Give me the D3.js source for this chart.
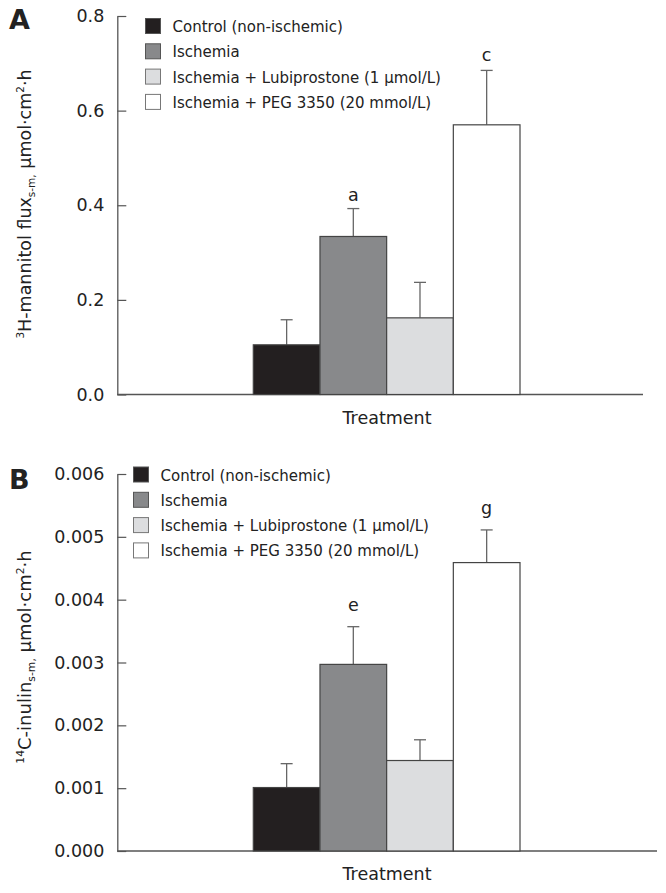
<!DOCTYPE html>
<html><head><meta charset="utf-8">
<script src="https://cdn.jsdelivr.net/npm/d3@7/dist/d3.min.js"></script>
<style>body{margin:0;background:#fff}svg{display:block}text{font-family:"DejaVu Sans",sans-serif;fill:#222}</style>
</head><body>
<script>
const categories = ["Control (non-ischemic)", "Ischemia", "Ischemia + Lubiprostone (1 \u03bcmol/L)", "Ischemia + PEG 3350 (20 mmol/L)"];
const fills = ["#231f20", "#88898b", "#dcdddf", "#ffffff"];
const mannitolMean = [0.105, 0.334, 0.162, 0.570];
const mannitolErr  = [0.053, 0.059, 0.075, 0.115];
const mannitolTicks = [0.0, 0.2, 0.4, 0.6, 0.8];
const mannitolLetters = [{i:1, t:"a", v:0.41}, {i:3, t:"c", v:0.705}];
const inulinMean = [0.00101, 0.00297, 0.00144, 0.00459];
const inulinErr  = [0.00038, 0.00060, 0.00033, 0.00052];
const inulinTicks = [0.000, 0.001, 0.002, 0.003, 0.004, 0.005, 0.006];
const inulinLetters = [{i:1, t:"e", v:0.00382}, {i:3, t:"g", v:0.00537}];

const svg = d3.select("body").append("svg").attr("width", 666).attr("height", 893);

function panel(cfg) {
  const g = svg.append("g");
  const y = d3.scaleLinear().domain([0, cfg.max]).range([cfg.y0, cfg.y1]);
  const x = d3.scaleBand().domain(categories).range([253.3, 520]).padding(0);
  // y axis
  const ax = g.append("g").attr("transform", `translate(${cfg.ax},0)`)
    .call(d3.axisLeft(y).tickValues(cfg.ticks).tickFormat(d3.format(cfg.fmt)).tickSizeInner(-9).tickSizeOuter(0).tickPadding(13));
  ax.select(".domain").attr("stroke", "#555").attr("stroke-width", 1.3);
  ax.selectAll(".tick line").attr("stroke", "#555").attr("stroke-width", 1.2);
  ax.selectAll(".tick text").attr("font-size", 17.5).attr("font-family", "DejaVu Sans").attr("fill", "#222");
  // x axis line
  g.append("line").attr("x1", cfg.ax).attr("x2", cfg.xEnd).attr("y1", y(0)).attr("y2", y(0))
    .attr("stroke", "#555").attr("stroke-width", 1.3);
  // error bars
  const eb = g.append("g");
  cfg.mean.forEach((m, i) => {
    const cx = x(categories[i]) + x.bandwidth() / 2;
    eb.append("line").attr("x1", cx).attr("x2", cx).attr("y1", y(m)).attr("y2", y(m + cfg.err[i])).attr("stroke", "#666").attr("stroke-width", 1.3);
    eb.append("line").attr("x1", cx - 6).attr("x2", cx + 6).attr("y1", y(m + cfg.err[i])).attr("y2", y(m + cfg.err[i])).attr("stroke", "#666").attr("stroke-width", 1.3);
  });
  // bars
  g.append("g").selectAll("rect").data(cfg.mean).join("rect")
    .attr("x", (d, i) => x(categories[i])).attr("width", x.bandwidth())
    .attr("y", d => y(d)).attr("height", d => y(0) - y(d))
    .attr("fill", (d, i) => fills[i]).attr("stroke", "#444").attr("stroke-width", 1.2);
  // letters
  g.selectAll("text.lt").data(cfg.letters).join("text").attr("class", "lt")
    .attr("x", d => x(categories[d.i]) + x.bandwidth() / 2).attr("y", d => y(d.v))
    .attr("text-anchor", "middle").attr("font-size", 17.5).text(d => d.t);
  // x title
  g.append("text").attr("x", 387).attr("y", y(0) + 29).attr("text-anchor", "middle").attr("font-size", 17.5).text("Treatment");
  // panel letter
  g.append("text").attr("x", 9).attr("y", cfg.letterY).attr("font-family", "Liberation Sans, Arial, sans-serif")
    .attr("font-weight", "bold").attr("font-size", 27).attr("fill", "#111").text(cfg.letter);
  // legend
  const lg = g.append("g");
  categories.forEach((c, i) => {
    const ry = cfg.legY + i * 25.3;
    lg.append("rect").attr("x", cfg.legX).attr("y", ry - 8).attr("width", 15).attr("height", 15)
      .attr("fill", fills[i]).attr("stroke", i < 2 ? "#555" : "#777").attr("stroke-width", 1);
    lg.append("text").attr("x", cfg.legX + 27).attr("y", ry + 5.5).attr("font-size", 15).text(c);
  });
  // y title
  const t = g.append("text").attr("transform", `translate(${cfg.titleX},${cfg.titleY}) rotate(-90)`)
    .attr("text-anchor", "middle").attr("font-size", cfg.titleSize);
  cfg.title.forEach(p => {
    const ts = t.append("tspan").text(p.s);
    if (p.k === "sup") ts.attr("font-size", cfg.titleSize * 0.6).attr("dy", -7);
    if (p.k === "sub") ts.attr("font-size", cfg.titleSize * 0.6).attr("dy", 4);
    if (p.k === "back") ts.attr("dy", p.d);
  });
}

panel({max: 0.8, y0: 394.5, y1: 16, ax: 117.3, xEnd: 643, ticks: mannitolTicks, fmt: ".1f",
  mean: mannitolMean, err: mannitolErr, letters: mannitolLetters, letter: "A", letterY: 29,
  legX: 145.5, legY: 26.5, titleX: 31, titleY: 204, titleSize: 17.5,
  title: [{k:"sup", s:"3"}, {k:"back", d:7, s:"H-mannitol flux"}, {k:"sub", s:"s-m,"}, {k:"back", d:-4, s:" \u03bcmol\u00b7cm"}, {k:"sup", s:"2"}, {k:"back", d:7, s:"\u00b7h"}]});

panel({max: 0.006, y0: 851, y1: 474, ax: 117.3, xEnd: 657, ticks: inulinTicks, fmt: ".3f",
  mean: inulinMean, err: inulinErr, letters: inulinLetters, letter: "B", letterY: 489,
  legX: 133.5, legY: 475, titleX: 31, titleY: 657, titleSize: 18,
  title: [{k:"sup", s:"14"}, {k:"back", d:7, s:"C-inulin"}, {k:"sub", s:"s-m,"}, {k:"back", d:-4, s:" \u03bcmol\u00b7cm"}, {k:"sup", s:"2"}, {k:"back", d:7, s:"\u00b7h"}]});
</script>
</body></html>
